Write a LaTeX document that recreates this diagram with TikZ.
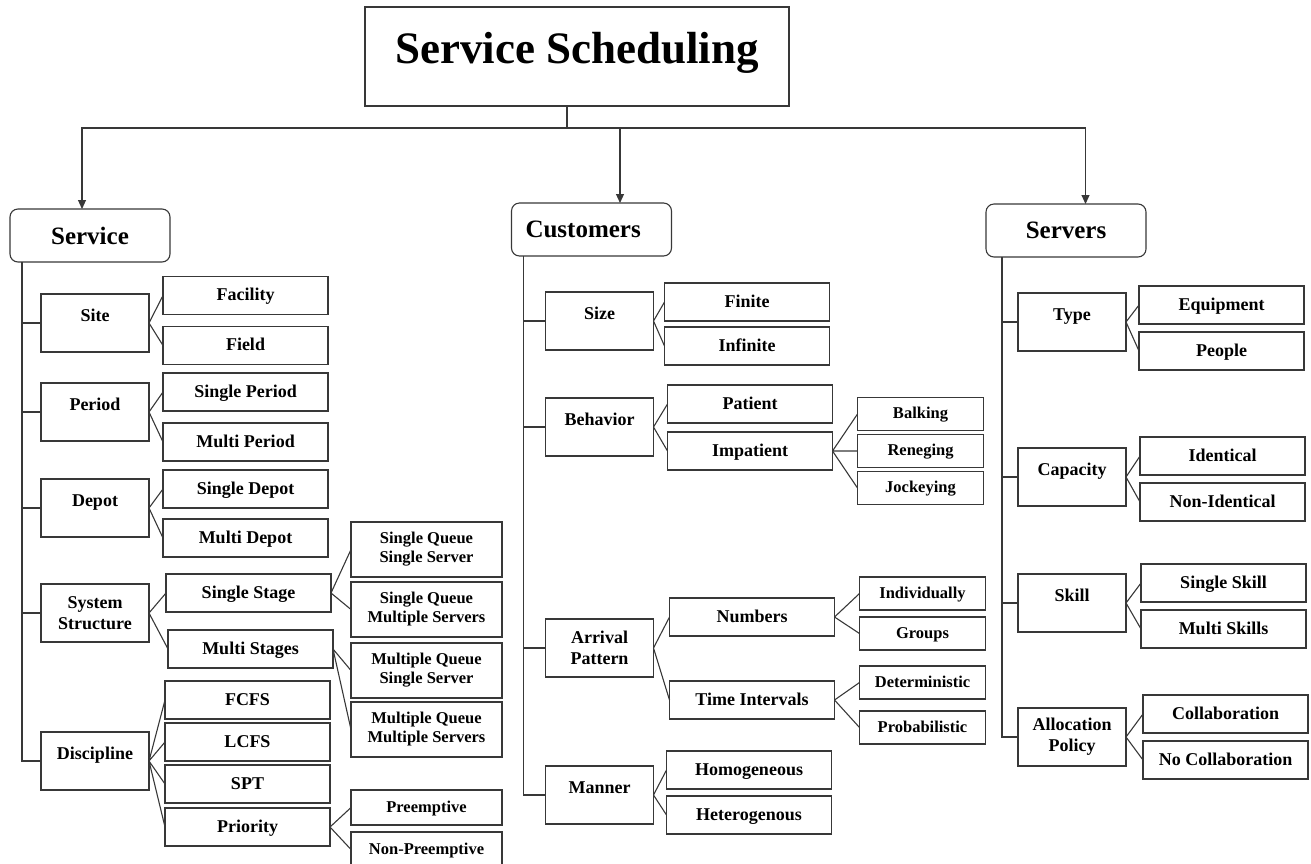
\documentclass[tikz,border=0pt]{standalone}
\usepackage{fontspec}
\setmainfont{Liberation Serif}
\usetikzlibrary{arrows.meta,positioning}
\definecolor{linegray}{gray}{0.22}

\begin{document}
\begin{tikzpicture}[x=1pt,y=-1pt,line width=1.1pt,>={Triangle[length=9pt,width=8pt]}]
	\tikzstyle{headbox}=[draw=linegray, rectangle, outer sep=0pt, minimum width=424pt, minimum height=99pt, text depth=18pt, font=\bfseries\fontsize{45}{54}\selectfont]
	\tikzstyle{mainbox}=[draw=linegray, rectangle, outer sep=0pt, rounded corners=8pt, minimum width=160pt, minimum height=53pt, font=\bfseries\fontsize{25}{30}\selectfont]
	\tikzstyle{catbox}=[draw=linegray, rectangle, outer sep=0pt, minimum width=108pt, minimum height=58pt, text depth=15pt, font=\bfseries\fontsize{18}{21}\selectfont]
	\tikzstyle{cattwo}=[draw=linegray, rectangle, outer sep=0pt, align=center, minimum width=108pt, minimum height=58pt, font=\bfseries\fontsize{18}{21}\selectfont]
	\tikzstyle{leafbox}=[draw=linegray, rectangle, outer sep=0pt, minimum width=165pt, minimum height=38pt, text height=12.5pt, text depth=2pt, font=\bfseries\fontsize{18}{21}\selectfont]
	\tikzstyle{smallbox}=[draw=linegray, rectangle, outer sep=0pt, minimum width=126pt, minimum height=33pt, text height=11.5pt, text depth=2pt, font=\bfseries\fontsize{16.5}{19}\selectfont]
	\tikzstyle{queuebox}=[draw=linegray, rectangle, outer sep=0pt, align=center, minimum width=151pt, minimum height=55pt, font=\bfseries\fontsize{16.5}{19}\selectfont]
	\tikzstyle{pribox}=[draw=linegray, rectangle, outer sep=0pt, minimum width=151pt, minimum height=35pt, text height=11.5pt, text depth=2pt, font=\bfseries\fontsize{16.5}{19}\selectfont]
	\tikzstyle{link}=[draw=linegray]

	\useasboundingbox (0,0) rectangle (1311,863);

	\node[headbox] (title) at (577,56.5) {Service Scheduling};
	\node[mainbox] (service) [below left=103pt and 195pt of title] {Service};
	\node[mainbox, inner xsep=14pt, text width=132pt, align=left] (customers) [below=97pt of title, xshift=14.5pt] {Customers};
	\node[mainbox] (servers) [below right=98pt and 197pt of title] {Servers};

	% service column
	\node[catbox] (site) [below right=32pt and 31pt of service.south west] {Site};
	\node[catbox] (period) [below=31pt of site] {Period};
	\node[catbox] (depot) [below=38pt of period] {Depot};
	\node[cattwo] (sysstr) [below=47pt of depot] {System\\Structure};
	\node[catbox] (discipline) [below=90pt of sysstr] {Discipline};

	\node[leafbox] (facility) [above right=8.5pt and 14pt of site.east] {Facility};
	\node[leafbox] (field) [below=12pt of facility] {Field};
	\node[leafbox] (singleper) [above right=1pt and 14pt of period.east] {Single Period};
	\node[leafbox] (multiper) [below=12pt of singleper] {Multi Period};
	\node[leafbox] (singledep) [above right=0pt and 14pt of depot.east] {Single Depot};
	\node[leafbox] (multidep) [below=11pt of singledep] {Multi Depot};
	\node[leafbox] (singlestage) [above right=1pt and 17pt of sysstr.east] {Single Stage};
	\node[leafbox] (multistage) [below=18pt of singlestage, xshift=2pt] {Multi Stages};
	\node[leafbox] (lcfs) [above right=0pt and 16pt of discipline.east] {LCFS};
	\node[leafbox] (fcfs) [above=4pt of lcfs] {FCFS};
	\node[leafbox] (spt) [below=4pt of lcfs] {SPT};
	\node[leafbox] (priority) [below=5pt of spt] {Priority};

	\node[queuebox] (sqss) [above right=16pt and 20pt of singlestage.east] {Single Queue\\Single Server};
	\node[queuebox] (sqms) [below=5pt of sqss] {Single Queue\\Multiple Servers};
	\node[queuebox] (mqss) [below=6pt of sqms] {Multiple Queue\\Single Server};
	\node[queuebox] (mqms) [below=4pt of mqss] {Multiple Queue\\Multiple Servers};
	\node[pribox] (preempt) [above right=2pt and 21pt of priority.east] {Preemptive};
	\node[pribox] (nonpreempt) [below=7pt of preempt] {Non-Preemptive};

	% customers column
	\node[catbox] (size) [below right=36pt and 34pt of customers.south west] {Size};
	\node[catbox] (behavior) [below=48pt of size] {Behavior};
	\node[cattwo] (arrival) [below=163pt of behavior] {Arrival\\Pattern};
	\node[catbox] (manner) [below=89pt of arrival] {Manner};

	\node[leafbox] (finite) [above right=0pt and 11pt of size.east] {Finite};
	\node[leafbox] (infinite) [below=6pt of finite] {Infinite};
	\node[leafbox] (patient) [above right=4pt and 14pt of behavior.east] {Patient};
	\node[leafbox] (impatient) [below=9pt of patient] {Impatient};
	\node[smallbox] (reneging) [right=25pt of impatient] {Reneging};
	\node[smallbox] (balking) [above=4pt of reneging] {Balking};
	\node[smallbox] (jockeying) [below=4pt of reneging] {Jockeying};
	\node[leafbox] (numbers) [above right=12pt and 16pt of arrival.east] {Numbers};
	\node[leafbox] (timeint) [below=45pt of numbers] {Time Intervals};
	\node[smallbox] (individ) [above right=7pt and 25pt of numbers.east] {Individually};
	\node[smallbox] (groups) [below=7pt of individ] {Groups};
	\node[smallbox] (determ) [above right=1pt and 25pt of timeint.east] {Deterministic};
	\node[smallbox] (probab) [below=12pt of determ] {Probabilistic};
	\node[leafbox] (homog) [above right=6pt and 13pt of manner.east] {Homogeneous};
	\node[leafbox] (heterog) [below=7pt of homog] {Heterogenous};

	% servers column
	\node[catbox] (type) [below right=36pt and 32pt of servers.south west] {Type};
	\node[catbox] (capacity) [below=97pt of type] {Capacity};
	\node[catbox] (skill) [below=68pt of capacity] {Skill};
	\node[cattwo] (allocation) [below=76pt of skill] {Allocation\\Policy};

	\node[leafbox] (people) [below right=10pt and 13pt of type.east] {People};
	\node[leafbox] (equipment) [above=8pt of people] {Equipment};
	\node[leafbox] (nonident) [below right=6pt and 14pt of capacity.east] {Non-Identical};
	\node[leafbox] (ident) [above=8pt of nonident] {Identical};
	\node[leafbox] (multiskill) [below right=7pt and 15pt of skill.east] {Multi Skills};
	\node[leafbox] (singleskill) [above=8pt of multiskill] {Single Skill};
	\node[leafbox] (nocollab) [below right=4pt and 17pt of allocation.east] {No Collaboration};
	\node[leafbox] (collab) [above=8pt of nocollab] {Collaboration};

	% top level links
	\coordinate (bus) at ([xshift=-10pt,yshift=-22pt]title.south);
	\draw[link] (title.south -| bus) -- (bus);
	\draw[link,->] (bus) -| ([xshift=-8pt]service.north);
	\draw[link,->] (bus) -| ([xshift=28.5pt]customers.north);
	\draw[link,->] (bus) -| ([xshift=19.5pt]servers.north);

	% trunks
	\coordinate (svtrunk) at ([xshift=12pt]service.south west);
	\coordinate (cutrunk) at ([xshift=12pt]customers.south west);
	\coordinate (setrunk) at ([xshift=16pt]servers.south west);
	\draw[link] (svtrunk) |- (discipline.west);
	\draw[link] (svtrunk |- site.west) -- (site.west);
	\draw[link] (svtrunk |- period.west) -- (period.west);
	\draw[link] (svtrunk |- depot.west) -- (depot.west);
	\draw[link] (svtrunk |- sysstr.west) -- (sysstr.west);
	\draw[link] (cutrunk) |- (manner.west);
	\draw[link] (cutrunk |- size.west) -- (size.west);
	\draw[link] (cutrunk |- behavior.west) -- (behavior.west);
	\draw[link] (cutrunk |- arrival.west) -- (arrival.west);
	\draw[link] (setrunk) |- (allocation.west);
	\draw[link] (setrunk |- type.west) -- (type.west);
	\draw[link] (setrunk |- capacity.west) -- (capacity.west);
	\draw[link] (setrunk |- skill.west) -- (skill.west);

	% forks
	\draw[link] (site.east) -- (facility.west) (site.east) -- (field.west);
	\draw[link] (period.east) -- (singleper.west) (period.east) -- (multiper.west);
	\draw[link] (depot.east) -- (singledep.west) (depot.east) -- (multidep.west);
	\draw[link] (sysstr.east) -- (singlestage.west) (sysstr.east) -- (multistage.west);
	\draw[link] (singlestage.east) -- (sqss.west) (singlestage.east) -- (sqms.west);
	\draw[link] (multistage.east) -- (mqss.west) (multistage.east) -- (mqms.west);
	\draw[link] (discipline.east) -- (fcfs.west) (discipline.east) -- (lcfs.west);
	\draw[link] (discipline.east) -- (spt.west) (discipline.east) -- (priority.west);
	\draw[link] (priority.east) -- (preempt.west) (priority.east) -- (nonpreempt.west);
	\draw[link] (size.east) -- (finite.west) (size.east) -- (infinite.west);
	\draw[link] (behavior.east) -- (patient.west) (behavior.east) -- (impatient.west);
	\draw[link] (impatient.east) -- (balking.west) (impatient.east) -- (reneging.west);
	\draw[link] (impatient.east) -- (jockeying.west);
	\draw[link] (arrival.east) -- (numbers.west) (arrival.east) -- (timeint.west);
	\draw[link] (numbers.east) -- (individ.west) (numbers.east) -- (groups.west);
	\draw[link] (timeint.east) -- (determ.west) (timeint.east) -- (probab.west);
	\draw[link] (manner.east) -- (homog.west) (manner.east) -- (heterog.west);
	\draw[link] (type.east) -- (equipment.west) (type.east) -- (people.west);
	\draw[link] (capacity.east) -- (ident.west) (capacity.east) -- (nonident.west);
	\draw[link] (skill.east) -- (singleskill.west) (skill.east) -- (multiskill.west);
	\draw[link] (allocation.east) -- (collab.west) (allocation.east) -- (nocollab.west);
\end{tikzpicture}
\end{document}
